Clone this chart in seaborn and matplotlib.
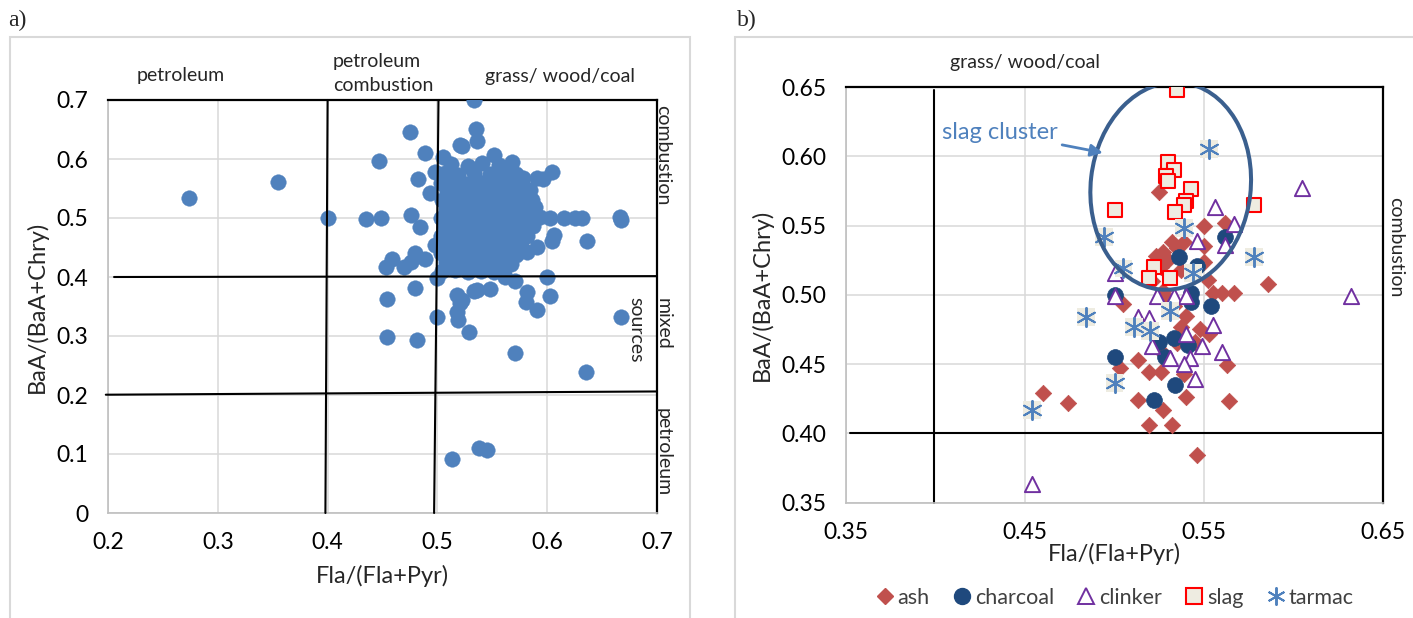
import matplotlib
matplotlib.use("Agg")
import numpy as np
import pandas as pd
import seaborn as sns
import matplotlib.pyplot as plt
from matplotlib.patches import Ellipse, Rectangle
from matplotlib.lines import Line2D
from matplotlib.transforms import ScaledTranslation

# ---------------- data: panel a (all samples) ----------------
a_fla = [0.274, 0.355, 0.400, 0.435, 0.449, 0.447, 0.475, 0.489, 0.482, 0.493, 0.498, 0.476,
         0.484, 0.459, 0.453, 0.470, 0.476, 0.480, 0.489, 0.454, 0.480, 0.454, 0.481, 0.500,
         0.500, 0.498, 0.529, 0.519, 0.518, 0.521, 0.518, 0.533, 0.548, 0.562, 0.571, 0.600,
         0.603, 0.582, 0.581, 0.591, 0.571, 0.635, 0.667, 0.513, 0.538, 0.545, 0.636, 0.604,
         0.606, 0.667, 0.666, 0.603, 0.615, 0.625, 0.632, 0.533, 0.535, 0.536, 0.522, 0.552,
         0.568, 0.604, 0.591, 0.578, 0.596, 0.505, 0.521, 0.582, 0.591, 0.563, 0.536, 0.522,
         0.584, 0.582,
         # dense cluster
         0.512, 0.528, 0.541, 0.556, 0.566,
         0.507, 0.519, 0.533, 0.548, 0.561, 0.572,
         0.503, 0.515, 0.526, 0.538, 0.551, 0.563, 0.575,
         0.509, 0.521, 0.532, 0.544, 0.557, 0.569, 0.581,
         0.504, 0.516, 0.527, 0.539, 0.550, 0.562, 0.574, 0.586,
         0.508, 0.520, 0.531, 0.543, 0.555, 0.567, 0.578, 0.589,
         0.503, 0.514, 0.525, 0.537, 0.548, 0.560, 0.572, 0.583, 0.593,
         0.507, 0.519, 0.530, 0.542, 0.553, 0.565, 0.577, 0.587,
         0.503, 0.513, 0.524, 0.536, 0.547, 0.559, 0.570, 0.582,
         0.508, 0.519, 0.531, 0.542, 0.553, 0.564, 0.576,
         0.503, 0.514, 0.526, 0.537, 0.549, 0.561, 0.572,
         0.508, 0.520, 0.532, 0.544, 0.556, 0.567,
         0.504, 0.516, 0.528, 0.540, 0.552, 0.561]
a_baa = [0.534, 0.561, 0.500, 0.498, 0.500, 0.597, 0.646, 0.610, 0.566, 0.542, 0.578, 0.505,
         0.485, 0.430, 0.417, 0.417, 0.425, 0.440, 0.430, 0.363, 0.381, 0.298, 0.293, 0.333,
         0.398, 0.454, 0.307, 0.327, 0.341, 0.356, 0.369, 0.376, 0.379, 0.400, 0.393, 0.400,
         0.368, 0.375, 0.358, 0.344, 0.271, 0.239, 0.333, 0.092, 0.110, 0.107, 0.461, 0.461,
         0.471, 0.497, 0.502, 0.500, 0.500, 0.500, 0.500, 0.700, 0.651, 0.631, 0.622, 0.607,
         0.595, 0.578, 0.568, 0.568, 0.566, 0.603, 0.623, 0.442, 0.451, 0.424, 0.378, 0.361,
         0.547, 0.530,
         # dense cluster
         0.591, 0.588, 0.593, 0.589, 0.586,
         0.576, 0.573, 0.577, 0.574, 0.571, 0.575,
         0.560, 0.562, 0.558, 0.561, 0.559, 0.563, 0.557,
         0.545, 0.547, 0.543, 0.546, 0.544, 0.548, 0.542,
         0.530, 0.532, 0.528, 0.531, 0.529, 0.533, 0.527, 0.530,
         0.515, 0.513, 0.517, 0.514, 0.516, 0.512, 0.515, 0.518,
         0.500, 0.502, 0.498, 0.501, 0.499, 0.503, 0.497, 0.500, 0.502,
         0.485, 0.487, 0.483, 0.486, 0.484, 0.488, 0.482, 0.486,
         0.470, 0.468, 0.472, 0.469, 0.471, 0.467, 0.473, 0.470,
         0.455, 0.457, 0.453, 0.456, 0.454, 0.458, 0.452,
         0.440, 0.442, 0.438, 0.441, 0.439, 0.443, 0.437,
         0.425, 0.423, 0.427, 0.424, 0.426, 0.422,
         0.410, 0.412, 0.408, 0.411, 0.409, 0.413]

# ---------------- data: panel b (by material) ----------------
ash_fla = [0.525, 0.550, 0.562, 0.532, 0.539, 0.535, 0.550, 0.527, 0.523, 0.530, 0.550, 0.526,
           0.537, 0.552, 0.586, 0.521, 0.555, 0.560, 0.567, 0.527, 0.505, 0.533, 0.540, 0.537,
           0.548, 0.553, 0.535, 0.527, 0.513, 0.503, 0.519, 0.526, 0.539, 0.563, 0.513, 0.540,
           0.564, 0.474, 0.460, 0.527, 0.519, 0.532, 0.546, 0.545, 0.530]
ash_baa = [0.574, 0.550, 0.552, 0.538, 0.538, 0.534, 0.535, 0.531, 0.528, 0.525, 0.524, 0.520,
           0.518, 0.511, 0.508, 0.510, 0.501, 0.501, 0.501, 0.503, 0.493, 0.492, 0.485, 0.477,
           0.475, 0.472, 0.465, 0.458, 0.453, 0.447, 0.444, 0.444, 0.443, 0.449, 0.424, 0.426,
           0.423, 0.422, 0.429, 0.417, 0.406, 0.406, 0.384, 0.466, 0.497]

charcoal_fla = [0.562, 0.536, 0.546, 0.543, 0.543, 0.554, 0.500, 0.533, 0.525, 0.541, 0.528,
                0.500, 0.534, 0.522]
charcoal_baa = [0.542, 0.527, 0.521, 0.501, 0.495, 0.492, 0.500, 0.469, 0.466, 0.464, 0.455,
                0.455, 0.435, 0.424]

clinker_fla = [0.605, 0.556, 0.567, 0.546, 0.562, 0.632, 0.500, 0.500, 0.524, 0.533, 0.540,
               0.513, 0.519, 0.555, 0.540, 0.549, 0.521, 0.531, 0.542, 0.539, 0.560, 0.545, 0.454]
clinker_baa = [0.577, 0.563, 0.551, 0.539, 0.536, 0.499, 0.516, 0.499, 0.499, 0.499, 0.499,
               0.484, 0.483, 0.478, 0.472, 0.463, 0.463, 0.454, 0.454, 0.450, 0.459, 0.439, 0.363]

slag_fla = [0.535, 0.530, 0.533, 0.529, 0.530, 0.543, 0.540, 0.539, 0.534, 0.500, 0.578,
            0.522, 0.519, 0.531]
slag_baa = [0.648, 0.596, 0.590, 0.586, 0.582, 0.576, 0.568, 0.565, 0.560, 0.561, 0.565,
            0.520, 0.512, 0.512]

tarmac_fla = [0.553, 0.494, 0.539, 0.578, 0.505, 0.544, 0.531, 0.484, 0.511, 0.520, 0.500, 0.454]
tarmac_baa = [0.605, 0.542, 0.548, 0.527, 0.519, 0.516, 0.488, 0.484, 0.477, 0.474, 0.436, 0.417]

materials = ["ash", "charcoal", "clinker", "slag", "tarmac"]

# ---------------- style ----------------
sns.set_style("white")
plt.rcParams['font.family'] = ['Lato', 'DejaVu Sans']
plt.rcParams['axes.unicode_minus'] = False

BLUE = "#4F81BD"
ASH = "#C0504D"
CHAR = "#1F497D"
CLINK = "#7030A0"
SLAG = "#FF0000"
BEIGE = "#EEECE1"
GRID = "#D9D9D9"
AXGRAY = "#BFBFBF"

TICK_FS = 16.5
LAB_FS = 17
TXT_FS = 14

fig = plt.figure(figsize=(14.13, 6.18), dpi=100)

# panel frames
fig.add_artist(Rectangle((10 / 1413, -0.1), 680 / 1413, 1 - 37 / 618 + 0.1,
                         transform=fig.transFigure, fill=False, edgecolor=GRID, lw=1.5))
fig.add_artist(Rectangle((735 / 1413, -0.1), 700 / 1413, 1 - 37 / 618 + 0.1,
                         transform=fig.transFigure, fill=False, edgecolor=GRID, lw=1.5))
fig.text(8 / 1413, 1 - 20 / 618, "a)", family="Liberation Serif", fontsize=17, va="center", ha="left")
fig.text(737 / 1413, 1 - 20 / 618, "b)", family="Liberation Serif", fontsize=17, va="center", ha="left")

axA = fig.add_axes([108 / 1413, 1 - 513 / 618, 549 / 1413, 413 / 618])
axB = fig.add_axes([846 / 1413, 1 - 502.5 / 618, 537 / 1413, 415.5 / 618])


def style_axes(ax):
    ax.grid(True, color=GRID, lw=1.1, zorder=0)
    ax.set_axisbelow(True)
    for s in ["left", "bottom"]:
        ax.spines[s].set_color(AXGRAY)
        ax.spines[s].set_linewidth(1.2)
    for s in ["top", "right"]:
        ax.spines[s].set_color("black")
        ax.spines[s].set_linewidth(1.6)
    ax.tick_params(length=0, pad=14, labelsize=TICK_FS, colors="black")


# ---------------- panel a ----------------
dfa = pd.DataFrame({"Fla": a_fla, "BaA": a_baa})
sns.scatterplot(data=dfa, x="Fla", y="BaA", ax=axA, color=BLUE, s=125,
                edgecolor=BLUE, linewidth=0.3, zorder=3, legend=False)
axA.set_xlim(0.2, 0.7)
axA.set_ylim(0, 0.7)
axA.set_xticks([0.2, 0.3, 0.4, 0.5, 0.6, 0.7])
axA.set_xticklabels(["0.2", "0.3", "0.4", "0.5", "0.6", "0.7"])
axA.set_yticks([0, 0.1, 0.2, 0.3, 0.4, 0.5, 0.6, 0.7])
axA.set_yticklabels(["0", "0.1", "0.2", "0.3", "0.4", "0.5", "0.6", "0.7"])
style_axes(axA)
axA.set_xlabel("Fla/(Fla+Pyr)", fontsize=LAB_FS, labelpad=8)
axA.set_ylabel("BaA/(BaA+Chry)", fontsize=LAB_FS, labelpad=6)

# source threshold lines
axA.plot([0.400, 0.398], [0.7, 0.0], color="black", lw=1.5, zorder=4, clip_on=False)
axA.plot([0.501, 0.497], [0.7, 0.0], color="black", lw=1.5, zorder=4, clip_on=False)
axA.plot([0.2055, 0.7], [0.400, 0.4015], color="black", lw=1.5, zorder=4, clip_on=False)
axA.plot([0.198, 0.7], [0.2005, 0.206], color="black", lw=1.5, zorder=4, clip_on=False)

axA.text(0.2665, 0.742, "petroleum", fontsize=TXT_FS, ha="center", va="center")
axA.text(0.405, 0.766, "petroleum", fontsize=TXT_FS, ha="left", va="center")
axA.text(0.405, 0.724, "combustion", fontsize=TXT_FS, ha="left", va="center")
axA.text(0.6117, 0.739, "grass/ wood/coal", fontsize=TXT_FS, ha="center", va="center")
axA.text(0.7055, 0.607, "combustion", fontsize=TXT_FS, rotation=-90, ha="center", va="center", clip_on=False)
axA.text(0.7055, 0.320, "mixed", fontsize=TXT_FS, rotation=-90, ha="center", va="center", clip_on=False)
axA.text(0.681, 0.310, "sources", fontsize=TXT_FS, rotation=-90, ha="center", va="center", clip_on=False)
axA.text(0.7055, 0.103, "petroleum", fontsize=TXT_FS, rotation=-90, ha="center", va="center", clip_on=False)

# ---------------- panel b ----------------
axB.set_xlim(0.35, 0.65)
axB.set_ylim(0.35, 0.65)
axB.set_xticks([0.35, 0.45, 0.55, 0.65])
axB.set_xticklabels(["0.35", "0.45", "0.55", "0.65"])
axB.set_yticks([0.35, 0.40, 0.45, 0.50, 0.55, 0.60, 0.65])
axB.set_yticklabels(["0.35", "0.40", "0.45", "0.50", "0.55", "0.60", "0.65"])
style_axes(axB)
axB.set_xlabel("Fla/(Fla+Pyr)", fontsize=LAB_FS, labelpad=0)
axB.set_ylabel("BaA/(BaA+Chry)", fontsize=LAB_FS, labelpad=6)

axB.plot([0.399, 0.399], [0.648, 0.35], color="black", lw=1.5, zorder=2, clip_on=False)
axB.plot([0.3525, 0.65], [0.40, 0.40], color="black", lw=1.5, zorder=2, clip_on=False)

sns.scatterplot(x=ash_fla, y=ash_baa, ax=axB, marker="D", s=70, color=ASH,
                edgecolor=ASH, linewidth=0.5, zorder=3, legend=False)
sns.scatterplot(x=charcoal_fla, y=charcoal_baa, ax=axB, marker="o", s=130, color=CHAR,
                edgecolor=CHAR, linewidth=0.5, zorder=4, legend=False)
sns.scatterplot(x=clinker_fla, y=clinker_baa, ax=axB, marker="^", s=120, facecolor="white",
                edgecolor=CLINK, linewidth=1.4, zorder=5, legend=False)
sns.scatterplot(x=slag_fla, y=slag_baa, ax=axB, marker="s", s=105, facecolor=BEIGE,
                edgecolor=SLAG, linewidth=1.5, zorder=6, legend=False)
sns.scatterplot(x=tarmac_fla, y=tarmac_baa, ax=axB, marker="s", s=165, color=BEIGE,
                edgecolor="none", linewidth=0, zorder=7, legend=False)
sns.scatterplot(x=tarmac_fla, y=tarmac_baa, ax=axB, marker=(6, 2, 0), s=190, color=BLUE,
                edgecolor=BLUE, linewidth=1.4, zorder=8, legend=False)

axB.text(0.450, 0.668, "grass/ wood/coal", fontsize=TXT_FS, ha="center", va="center", clip_on=False)
axB.text(0.657, 0.5345, "combustion", fontsize=TXT_FS, rotation=-90, ha="center", va="center", clip_on=False)

# slag cluster ellipse (rotated in screen space)
ell = Ellipse((0, 0), width=1.60, height=2.08, angle=-6.5, fill=False,
              edgecolor="#3A5F8E", lw=2.9, zorder=9,
              transform=fig.dpi_scale_trans + ScaledTranslation(0.5314, 0.5785, axB.transData))
axB.add_artist(ell)
axB.annotate("slag cluster", xy=(0.4935, 0.6025), xytext=(0.4035, 0.617),
             fontsize=17, color=BLUE, ha="left", va="center", zorder=10,
             arrowprops=dict(arrowstyle="-|>", color=BLUE, lw=2.0, mutation_scale=18,
                             shrinkA=1, shrinkB=0))

handles = [
    Line2D([], [], ls="none", marker="D", ms=8, color=ASH, mec=ASH),
    Line2D([], [], ls="none", marker="o", ms=11.5, color=CHAR, mec=CHAR),
    Line2D([], [], ls="none", marker="^", ms=11, mfc="white", mec=CLINK, mew=1.4),
    Line2D([], [], ls="none", marker="s", ms=11, mfc=BEIGE, mec=SLAG, mew=1.5),
    Line2D([], [], ls="none", marker=(6, 2, 0), ms=13, color=BLUE, mec=BLUE, mew=1.4),
]
fig.legend(handles, materials, loc="center", bbox_to_anchor=(1115 / 1413, 1 - 598 / 618),
           ncol=5, frameon=False, fontsize=15.5, handlelength=0.8, handletextpad=0.2,
           columnspacing=1.1, labelcolor="#404040")

fig.savefig("out.png", dpi=100)
